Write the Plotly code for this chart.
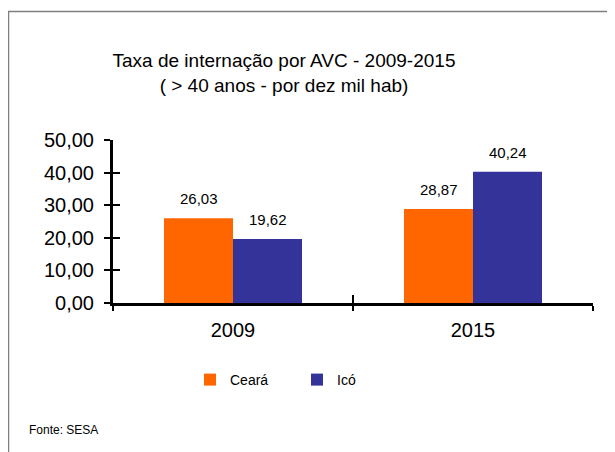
import plotly.graph_objects as go

categories = ["2009", "2015"]
series_names = ["Ceará", "Icó"]
ceara = [26.03, 28.87]
ico = [19.62, 40.24]
series_values = [ceara, ico]
colors = ["#FF6600", "#333399"]
y_ticks = [0, 10, 20, 30, 40, 50]

FONT = "Liberation Sans, Arial, sans-serif"

W, H = 615, 452
OFF = 8  # page body margin: figure is drawn 8px right/down of the window origin
# plot area in window pixels: x 113..593, y 140..303
PX0, PX1, PY0, PY1 = 113, 593, 140, 303
ML, MT = PX0 - OFF, PY0 - OFF
MR, MB = W - (PX1 - OFF), H - (PY1 - OFF)
PW = PX1 - PX0
PH = PY1 - PY0
BARGAP = 0.425

def px_x(p):
    return (p - PX0) / PW

def px_y(p):
    return (PY1 - p) / PH

fig = go.Figure()
for name, vals, col in zip(series_names, series_values, colors):
    fig.add_trace(go.Bar(
        name=name, x=categories, y=vals, marker=dict(color=col, line=dict(width=0)),
        hoverinfo="skip",
    ))

# data labels (offset within group derived from bar geometry)
cat_px = PW / len(categories)
bar_px = cat_px * (1 - BARGAP) / len(series_names)
annotations = []
for i, vals in enumerate(series_values):
    shift = (i - (len(series_names) - 1) / 2) * bar_px
    for ci, v in enumerate(vals):
        annotations.append(dict(
            x=ci, y=v, xref="x", yref="y", text=f"{v:.2f}".replace(".", ","),
            showarrow=False, yanchor="bottom", yshift=9, xshift=shift,
            font=dict(family=FONT, size=15, color="#000000"),
        ))

annotations.append(dict(
    x=px_x(27), y=px_y(430), xref="paper", yref="paper", xanchor="left", yanchor="middle",
    text="Fonte: SESA", showarrow=False, font=dict(family=FONT, size=12, color="#000000"),
))

fig.update_layout(
    width=W, height=H,
    margin=dict(l=ML, r=MR, t=MT, b=MB, autoexpand=False),
    paper_bgcolor="white", plot_bgcolor="white",
    separators=",.",
    barmode="group", bargap=BARGAP, bargroupgap=0,
    title=dict(
        text="Taxa de internação por AVC - 2009-2015<br>( > 40 anos - por dez mil hab)",
        x=(284 - OFF) / W, xanchor="center", xref="container",
        y=1 - (67 - OFF) / H, yanchor="middle", yref="container",
        font=dict(family=FONT, size=19, color="#000000"),
    ),
    font=dict(family=FONT, color="#000000"),
    xaxis=dict(
        type="category", range=[-0.5, 1.5], tickson="boundaries",
        showline=True, linecolor="#000000", linewidth=3,
        ticks="outside", ticklen=5, tickwidth=2, tickcolor="#000000",
        showgrid=False, zeroline=False, ticklabelstandoff=7,
        tickfont=dict(family=FONT, size=20, color="#000000"),
    ),
    yaxis=dict(
        range=[0, 50], tickvals=y_ticks, tickformat=".2f",
        showline=True, linecolor="#000000", linewidth=3,
        ticks="outside", ticklen=6, tickwidth=2, tickcolor="#000000",
        showgrid=False, zeroline=False, ticklabelstandoff=6,
        tickfont=dict(family=FONT, size=20, color="#000000"),
    ),
    xaxis2=dict(
        overlaying="x", anchor="y2", side="bottom", range=[-0.5, 1.5],
        tickvals=[-0.5, 0.5, 1.5], showticklabels=False,
        ticks="inside", ticklen=8, tickwidth=2, tickcolor="#000000",
        showline=False, showgrid=False, zeroline=False,
    ),
    yaxis2=dict(
        overlaying="y", anchor="x2", side="left", range=[0, 50],
        tickvals=y_ticks, showticklabels=False,
        ticks="inside", ticklen=7, tickwidth=2, tickcolor="#000000",
        showline=False, showgrid=False, zeroline=False,
    ),
    legend=dict(
        orientation="h", x=px_x(190), xanchor="left", y=px_y(380), yanchor="middle",
        font=dict(family=FONT, size=14, color="#000000"),
        entrywidth=62, entrywidthmode="pixels", itemwidth=30,
        bgcolor="rgba(0,0,0,0)",
    ),
    annotations=annotations,
    shapes=[dict(
        type="rect", xref="paper", yref="paper",
        x0=px_x(8.5), x1=px_x(W + 40), y0=px_y(H + 40), y1=px_y(11.5),
        line=dict(color="#7f7f7f", width=1.5), fillcolor="rgba(0,0,0,0)", layer="below",
    )],
)

fig.add_trace(go.Scatter(x=[], y=[], xaxis="x2", yaxis="y2", showlegend=False, hoverinfo="skip"))

fig.write_html("out.html")
